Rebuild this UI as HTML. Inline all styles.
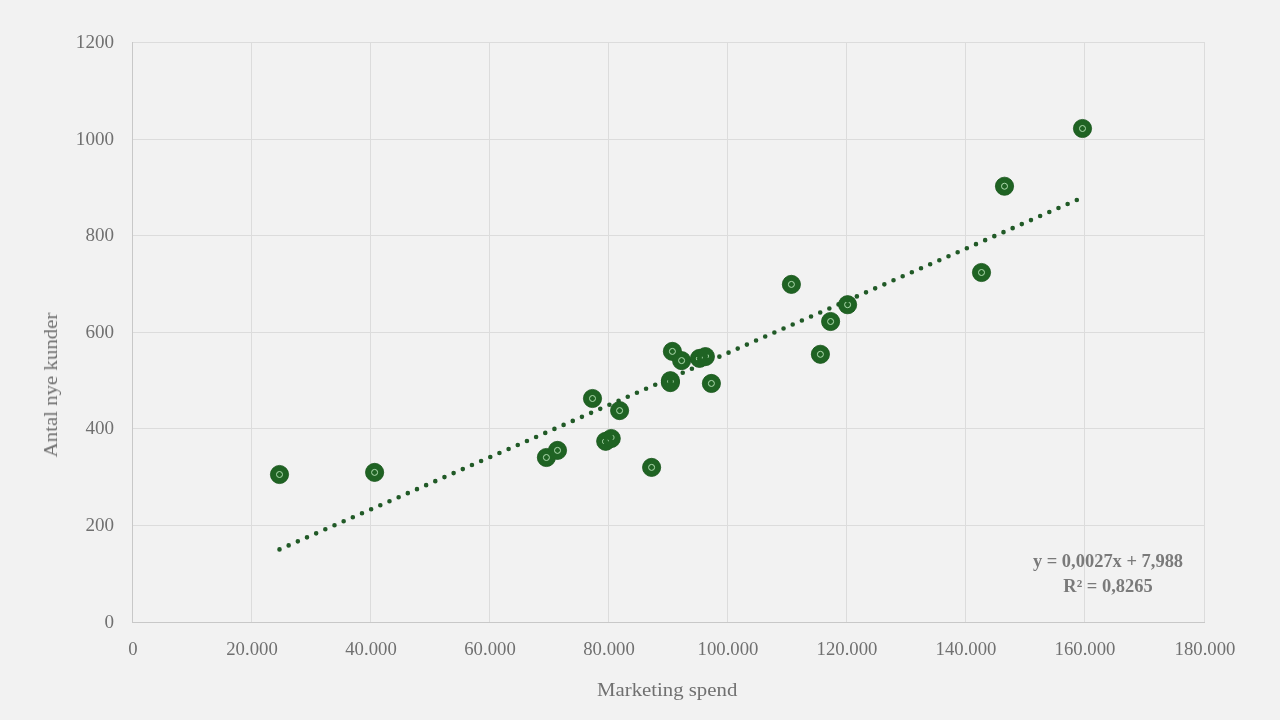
<!DOCTYPE html>
<html><head><meta charset="utf-8"><style>
html,body{margin:0;padding:0;background:#f2f2f2;}
body{width:1280px;height:720px;overflow:hidden;position:relative;font-family:"Liberation Serif",serif;color:#707070;}
svg{position:absolute;left:0;top:0;}
.t{position:absolute;white-space:nowrap;will-change:transform;}
.yl{position:absolute;width:120px;text-align:right;font-size:18px;line-height:20px;white-space:nowrap;transform-origin:100% 50%;transform:scaleX(1.06);will-change:transform;}
.xl{position:absolute;font-size:18px;line-height:20px;white-space:nowrap;width:120px;text-align:center;top:639px;transform:scaleX(1.04);will-change:transform;}
</style></head><body>
<svg width="1280" height="720" viewBox="0 0 1280 720">
<line x1="132" y1="42.5" x2="1205" y2="42.5" stroke="#dcdcdc" stroke-width="1"/>
<line x1="132" y1="139.5" x2="1205" y2="139.5" stroke="#dcdcdc" stroke-width="1"/>
<line x1="132" y1="235.5" x2="1205" y2="235.5" stroke="#dcdcdc" stroke-width="1"/>
<line x1="132" y1="332.5" x2="1205" y2="332.5" stroke="#dcdcdc" stroke-width="1"/>
<line x1="132" y1="428.5" x2="1205" y2="428.5" stroke="#dcdcdc" stroke-width="1"/>
<line x1="132" y1="525.5" x2="1205" y2="525.5" stroke="#dcdcdc" stroke-width="1"/>
<line x1="251.5" y1="42" x2="251.5" y2="622" stroke="#dcdcdc" stroke-width="1"/>
<line x1="370.5" y1="42" x2="370.5" y2="622" stroke="#dcdcdc" stroke-width="1"/>
<line x1="489.5" y1="42" x2="489.5" y2="622" stroke="#dcdcdc" stroke-width="1"/>
<line x1="608.5" y1="42" x2="608.5" y2="622" stroke="#dcdcdc" stroke-width="1"/>
<line x1="727.5" y1="42" x2="727.5" y2="622" stroke="#dcdcdc" stroke-width="1"/>
<line x1="846.5" y1="42" x2="846.5" y2="622" stroke="#dcdcdc" stroke-width="1"/>
<line x1="965.5" y1="42" x2="965.5" y2="622" stroke="#dcdcdc" stroke-width="1"/>
<line x1="1084.5" y1="42" x2="1084.5" y2="622" stroke="#dcdcdc" stroke-width="1"/>
<line x1="1204.5" y1="42" x2="1204.5" y2="622" stroke="#dcdcdc" stroke-width="1"/>
<line x1="132.5" y1="42" x2="132.5" y2="623" stroke="#c8c8c8" stroke-width="1"/>
<line x1="132" y1="622.5" x2="1205" y2="622.5" stroke="#c8c8c8" stroke-width="1"/>
<path d="M277.20 549.40a2.3 2.3 0 1 0 4.6 0a2.3 2.3 0 1 0 -4.6 0M286.36 545.38a2.3 2.3 0 1 0 4.6 0a2.3 2.3 0 1 0 -4.6 0M295.53 541.37a2.3 2.3 0 1 0 4.6 0a2.3 2.3 0 1 0 -4.6 0M304.69 537.35a2.3 2.3 0 1 0 4.6 0a2.3 2.3 0 1 0 -4.6 0M313.86 533.34a2.3 2.3 0 1 0 4.6 0a2.3 2.3 0 1 0 -4.6 0M323.02 529.32a2.3 2.3 0 1 0 4.6 0a2.3 2.3 0 1 0 -4.6 0M332.19 525.30a2.3 2.3 0 1 0 4.6 0a2.3 2.3 0 1 0 -4.6 0M341.35 521.29a2.3 2.3 0 1 0 4.6 0a2.3 2.3 0 1 0 -4.6 0M350.51 517.27a2.3 2.3 0 1 0 4.6 0a2.3 2.3 0 1 0 -4.6 0M359.68 513.26a2.3 2.3 0 1 0 4.6 0a2.3 2.3 0 1 0 -4.6 0M368.84 509.24a2.3 2.3 0 1 0 4.6 0a2.3 2.3 0 1 0 -4.6 0M378.01 505.22a2.3 2.3 0 1 0 4.6 0a2.3 2.3 0 1 0 -4.6 0M387.17 501.21a2.3 2.3 0 1 0 4.6 0a2.3 2.3 0 1 0 -4.6 0M396.34 497.19a2.3 2.3 0 1 0 4.6 0a2.3 2.3 0 1 0 -4.6 0M405.50 493.17a2.3 2.3 0 1 0 4.6 0a2.3 2.3 0 1 0 -4.6 0M414.67 489.16a2.3 2.3 0 1 0 4.6 0a2.3 2.3 0 1 0 -4.6 0M423.83 485.14a2.3 2.3 0 1 0 4.6 0a2.3 2.3 0 1 0 -4.6 0M432.99 481.13a2.3 2.3 0 1 0 4.6 0a2.3 2.3 0 1 0 -4.6 0M442.16 477.11a2.3 2.3 0 1 0 4.6 0a2.3 2.3 0 1 0 -4.6 0M451.32 473.09a2.3 2.3 0 1 0 4.6 0a2.3 2.3 0 1 0 -4.6 0M460.49 469.08a2.3 2.3 0 1 0 4.6 0a2.3 2.3 0 1 0 -4.6 0M469.65 465.06a2.3 2.3 0 1 0 4.6 0a2.3 2.3 0 1 0 -4.6 0M478.82 461.05a2.3 2.3 0 1 0 4.6 0a2.3 2.3 0 1 0 -4.6 0M487.98 457.03a2.3 2.3 0 1 0 4.6 0a2.3 2.3 0 1 0 -4.6 0M497.14 453.01a2.3 2.3 0 1 0 4.6 0a2.3 2.3 0 1 0 -4.6 0M506.31 449.00a2.3 2.3 0 1 0 4.6 0a2.3 2.3 0 1 0 -4.6 0M515.47 444.98a2.3 2.3 0 1 0 4.6 0a2.3 2.3 0 1 0 -4.6 0M524.64 440.97a2.3 2.3 0 1 0 4.6 0a2.3 2.3 0 1 0 -4.6 0M533.80 436.95a2.3 2.3 0 1 0 4.6 0a2.3 2.3 0 1 0 -4.6 0M542.97 432.93a2.3 2.3 0 1 0 4.6 0a2.3 2.3 0 1 0 -4.6 0M552.13 428.92a2.3 2.3 0 1 0 4.6 0a2.3 2.3 0 1 0 -4.6 0M561.30 424.90a2.3 2.3 0 1 0 4.6 0a2.3 2.3 0 1 0 -4.6 0M570.46 420.89a2.3 2.3 0 1 0 4.6 0a2.3 2.3 0 1 0 -4.6 0M579.62 416.87a2.3 2.3 0 1 0 4.6 0a2.3 2.3 0 1 0 -4.6 0M588.79 412.85a2.3 2.3 0 1 0 4.6 0a2.3 2.3 0 1 0 -4.6 0M597.95 408.84a2.3 2.3 0 1 0 4.6 0a2.3 2.3 0 1 0 -4.6 0M607.12 404.82a2.3 2.3 0 1 0 4.6 0a2.3 2.3 0 1 0 -4.6 0M616.28 400.80a2.3 2.3 0 1 0 4.6 0a2.3 2.3 0 1 0 -4.6 0M625.45 396.79a2.3 2.3 0 1 0 4.6 0a2.3 2.3 0 1 0 -4.6 0M634.61 392.77a2.3 2.3 0 1 0 4.6 0a2.3 2.3 0 1 0 -4.6 0M643.77 388.76a2.3 2.3 0 1 0 4.6 0a2.3 2.3 0 1 0 -4.6 0M652.94 384.74a2.3 2.3 0 1 0 4.6 0a2.3 2.3 0 1 0 -4.6 0M662.10 380.72a2.3 2.3 0 1 0 4.6 0a2.3 2.3 0 1 0 -4.6 0M671.27 376.71a2.3 2.3 0 1 0 4.6 0a2.3 2.3 0 1 0 -4.6 0M680.43 372.69a2.3 2.3 0 1 0 4.6 0a2.3 2.3 0 1 0 -4.6 0M689.60 368.68a2.3 2.3 0 1 0 4.6 0a2.3 2.3 0 1 0 -4.6 0M698.76 364.66a2.3 2.3 0 1 0 4.6 0a2.3 2.3 0 1 0 -4.6 0M707.93 360.64a2.3 2.3 0 1 0 4.6 0a2.3 2.3 0 1 0 -4.6 0M717.09 356.63a2.3 2.3 0 1 0 4.6 0a2.3 2.3 0 1 0 -4.6 0M726.25 352.61a2.3 2.3 0 1 0 4.6 0a2.3 2.3 0 1 0 -4.6 0M735.42 348.60a2.3 2.3 0 1 0 4.6 0a2.3 2.3 0 1 0 -4.6 0M744.58 344.58a2.3 2.3 0 1 0 4.6 0a2.3 2.3 0 1 0 -4.6 0M753.75 340.56a2.3 2.3 0 1 0 4.6 0a2.3 2.3 0 1 0 -4.6 0M762.91 336.55a2.3 2.3 0 1 0 4.6 0a2.3 2.3 0 1 0 -4.6 0M772.08 332.53a2.3 2.3 0 1 0 4.6 0a2.3 2.3 0 1 0 -4.6 0M781.24 328.51a2.3 2.3 0 1 0 4.6 0a2.3 2.3 0 1 0 -4.6 0M790.40 324.50a2.3 2.3 0 1 0 4.6 0a2.3 2.3 0 1 0 -4.6 0M799.57 320.48a2.3 2.3 0 1 0 4.6 0a2.3 2.3 0 1 0 -4.6 0M808.73 316.47a2.3 2.3 0 1 0 4.6 0a2.3 2.3 0 1 0 -4.6 0M817.90 312.45a2.3 2.3 0 1 0 4.6 0a2.3 2.3 0 1 0 -4.6 0M827.06 308.43a2.3 2.3 0 1 0 4.6 0a2.3 2.3 0 1 0 -4.6 0M836.23 304.42a2.3 2.3 0 1 0 4.6 0a2.3 2.3 0 1 0 -4.6 0M845.39 300.40a2.3 2.3 0 1 0 4.6 0a2.3 2.3 0 1 0 -4.6 0M854.56 296.39a2.3 2.3 0 1 0 4.6 0a2.3 2.3 0 1 0 -4.6 0M863.72 292.37a2.3 2.3 0 1 0 4.6 0a2.3 2.3 0 1 0 -4.6 0M872.88 288.35a2.3 2.3 0 1 0 4.6 0a2.3 2.3 0 1 0 -4.6 0M882.05 284.34a2.3 2.3 0 1 0 4.6 0a2.3 2.3 0 1 0 -4.6 0M891.21 280.32a2.3 2.3 0 1 0 4.6 0a2.3 2.3 0 1 0 -4.6 0M900.38 276.31a2.3 2.3 0 1 0 4.6 0a2.3 2.3 0 1 0 -4.6 0M909.54 272.29a2.3 2.3 0 1 0 4.6 0a2.3 2.3 0 1 0 -4.6 0M918.71 268.27a2.3 2.3 0 1 0 4.6 0a2.3 2.3 0 1 0 -4.6 0M927.87 264.26a2.3 2.3 0 1 0 4.6 0a2.3 2.3 0 1 0 -4.6 0M937.03 260.24a2.3 2.3 0 1 0 4.6 0a2.3 2.3 0 1 0 -4.6 0M946.20 256.23a2.3 2.3 0 1 0 4.6 0a2.3 2.3 0 1 0 -4.6 0M955.36 252.21a2.3 2.3 0 1 0 4.6 0a2.3 2.3 0 1 0 -4.6 0M964.53 248.19a2.3 2.3 0 1 0 4.6 0a2.3 2.3 0 1 0 -4.6 0M973.69 244.18a2.3 2.3 0 1 0 4.6 0a2.3 2.3 0 1 0 -4.6 0M982.86 240.16a2.3 2.3 0 1 0 4.6 0a2.3 2.3 0 1 0 -4.6 0M992.02 236.14a2.3 2.3 0 1 0 4.6 0a2.3 2.3 0 1 0 -4.6 0M1001.19 232.13a2.3 2.3 0 1 0 4.6 0a2.3 2.3 0 1 0 -4.6 0M1010.35 228.11a2.3 2.3 0 1 0 4.6 0a2.3 2.3 0 1 0 -4.6 0M1019.51 224.10a2.3 2.3 0 1 0 4.6 0a2.3 2.3 0 1 0 -4.6 0M1028.68 220.08a2.3 2.3 0 1 0 4.6 0a2.3 2.3 0 1 0 -4.6 0M1037.84 216.06a2.3 2.3 0 1 0 4.6 0a2.3 2.3 0 1 0 -4.6 0M1047.01 212.05a2.3 2.3 0 1 0 4.6 0a2.3 2.3 0 1 0 -4.6 0M1056.17 208.03a2.3 2.3 0 1 0 4.6 0a2.3 2.3 0 1 0 -4.6 0M1065.34 204.02a2.3 2.3 0 1 0 4.6 0a2.3 2.3 0 1 0 -4.6 0M1074.50 200.00a2.3 2.3 0 1 0 4.6 0a2.3 2.3 0 1 0 -4.6 0" fill="#215a27"/>
<circle cx="279.5" cy="474.5" r="9.1" fill="#1f6323" stroke="#1a561d" stroke-width="0.8"/>
<circle cx="374.6" cy="472.4" r="9.1" fill="#1f6323" stroke="#1a561d" stroke-width="0.8"/>
<circle cx="546.4" cy="457.5" r="9.1" fill="#1f6323" stroke="#1a561d" stroke-width="0.8"/>
<circle cx="557.5" cy="450.4" r="9.1" fill="#1f6323" stroke="#1a561d" stroke-width="0.8"/>
<circle cx="592.5" cy="398.5" r="9.1" fill="#1f6323" stroke="#1a561d" stroke-width="0.8"/>
<circle cx="605.7" cy="441.3" r="9.1" fill="#1f6323" stroke="#1a561d" stroke-width="0.8"/>
<circle cx="611.25" cy="438.5" r="9.1" fill="#1f6323" stroke="#1a561d" stroke-width="0.8"/>
<circle cx="619.6" cy="410.6" r="9.1" fill="#1f6323" stroke="#1a561d" stroke-width="0.8"/>
<circle cx="651.6" cy="467.4" r="9.1" fill="#1f6323" stroke="#1a561d" stroke-width="0.8"/>
<circle cx="670.4" cy="380.7" r="9.1" fill="#1f6323" stroke="#1a561d" stroke-width="0.8"/>
<circle cx="670.4" cy="382.6" r="9.1" fill="#1f6323" stroke="#1a561d" stroke-width="0.8"/>
<circle cx="672.4" cy="351.4" r="9.1" fill="#1f6323" stroke="#1a561d" stroke-width="0.8"/>
<circle cx="681.6" cy="360.6" r="9.1" fill="#1f6323" stroke="#1a561d" stroke-width="0.8"/>
<circle cx="699.5" cy="358.4" r="9.1" fill="#1f6323" stroke="#1a561d" stroke-width="0.8"/>
<circle cx="705.4" cy="356.6" r="9.1" fill="#1f6323" stroke="#1a561d" stroke-width="0.8"/>
<circle cx="711.4" cy="383.45" r="9.1" fill="#1f6323" stroke="#1a561d" stroke-width="0.8"/>
<circle cx="791.4" cy="284.4" r="9.1" fill="#1f6323" stroke="#1a561d" stroke-width="0.8"/>
<circle cx="820.4" cy="354.3" r="9.1" fill="#1f6323" stroke="#1a561d" stroke-width="0.8"/>
<circle cx="830.6" cy="321.5" r="9.1" fill="#1f6323" stroke="#1a561d" stroke-width="0.8"/>
<circle cx="847.6" cy="304.7" r="9.1" fill="#1f6323" stroke="#1a561d" stroke-width="0.8"/>
<circle cx="981.5" cy="272.5" r="9.1" fill="#1f6323" stroke="#1a561d" stroke-width="0.8"/>
<circle cx="1004.5" cy="186.25" r="9.1" fill="#1f6323" stroke="#1a561d" stroke-width="0.8"/>
<circle cx="1082.5" cy="128.5" r="9.1" fill="#1f6323" stroke="#1a561d" stroke-width="0.8"/>
<circle cx="279.5" cy="474.5" r="8.6" fill="#1f6323"/>
<circle cx="374.6" cy="472.4" r="8.6" fill="#1f6323"/>
<circle cx="546.4" cy="457.5" r="8.6" fill="#1f6323"/>
<circle cx="557.5" cy="450.4" r="8.6" fill="#1f6323"/>
<circle cx="592.5" cy="398.5" r="8.6" fill="#1f6323"/>
<circle cx="605.7" cy="441.3" r="8.6" fill="#1f6323"/>
<circle cx="611.25" cy="438.5" r="8.6" fill="#1f6323"/>
<circle cx="619.6" cy="410.6" r="8.6" fill="#1f6323"/>
<circle cx="651.6" cy="467.4" r="8.6" fill="#1f6323"/>
<circle cx="670.4" cy="380.7" r="8.6" fill="#1f6323"/>
<circle cx="670.4" cy="382.6" r="8.6" fill="#1f6323"/>
<circle cx="672.4" cy="351.4" r="8.6" fill="#1f6323"/>
<circle cx="681.6" cy="360.6" r="8.6" fill="#1f6323"/>
<circle cx="699.5" cy="358.4" r="8.6" fill="#1f6323"/>
<circle cx="705.4" cy="356.6" r="8.6" fill="#1f6323"/>
<circle cx="711.4" cy="383.45" r="8.6" fill="#1f6323"/>
<circle cx="791.4" cy="284.4" r="8.6" fill="#1f6323"/>
<circle cx="820.4" cy="354.3" r="8.6" fill="#1f6323"/>
<circle cx="830.6" cy="321.5" r="8.6" fill="#1f6323"/>
<circle cx="847.6" cy="304.7" r="8.6" fill="#1f6323"/>
<circle cx="981.5" cy="272.5" r="8.6" fill="#1f6323"/>
<circle cx="1004.5" cy="186.25" r="8.6" fill="#1f6323"/>
<circle cx="1082.5" cy="128.5" r="8.6" fill="#1f6323"/>
<circle cx="279.5" cy="474.5" r="3" fill="none" stroke="#b0dcb0" stroke-width="1"/>
<circle cx="374.6" cy="472.4" r="3" fill="none" stroke="#b0dcb0" stroke-width="1"/>
<circle cx="546.4" cy="457.5" r="3" fill="none" stroke="#b0dcb0" stroke-width="1"/>
<circle cx="557.5" cy="450.4" r="3" fill="none" stroke="#b0dcb0" stroke-width="1"/>
<circle cx="592.5" cy="398.5" r="3" fill="none" stroke="#b0dcb0" stroke-width="1"/>
<circle cx="619.6" cy="410.6" r="3" fill="none" stroke="#b0dcb0" stroke-width="1"/>
<circle cx="651.6" cy="467.4" r="3" fill="none" stroke="#b0dcb0" stroke-width="1"/>
<circle cx="672.4" cy="351.4" r="3" fill="none" stroke="#b0dcb0" stroke-width="1"/>
<circle cx="681.6" cy="360.6" r="3" fill="none" stroke="#b0dcb0" stroke-width="1"/>
<circle cx="711.4" cy="383.45" r="3" fill="none" stroke="#b0dcb0" stroke-width="1"/>
<circle cx="791.4" cy="284.4" r="3" fill="none" stroke="#b0dcb0" stroke-width="1"/>
<circle cx="820.4" cy="354.3" r="3" fill="none" stroke="#b0dcb0" stroke-width="1"/>
<circle cx="830.6" cy="321.5" r="3" fill="none" stroke="#b0dcb0" stroke-width="1"/>
<circle cx="847.6" cy="304.7" r="3" fill="none" stroke="#b0dcb0" stroke-width="1"/>
<circle cx="981.5" cy="272.5" r="3" fill="none" stroke="#b0dcb0" stroke-width="1"/>
<circle cx="1004.5" cy="186.25" r="3" fill="none" stroke="#b0dcb0" stroke-width="1"/>
<circle cx="1082.5" cy="128.5" r="3" fill="none" stroke="#b0dcb0" stroke-width="1"/>
<path d="M603.57 443.80 A3 3 0 0 1 603.57 439.20" fill="none" stroke="#b0dcb0" stroke-width="1"/>
<path d="M612.93 435.20 A3 3 0 0 1 612.93 439.80" fill="none" stroke="#b0dcb0" stroke-width="1"/>
<path d="M607.96 439.78 A3 3 0 0 1 608.49 441.24" fill="none" stroke="#b0dcb0" stroke-width="1"/>
<path d="M667.68 382.53 A3 3 0 0 1 667.68 380.47" fill="none" stroke="#b0dcb0" stroke-width="1"/>
<path d="M673.22 380.47 A3 3 0 0 1 673.22 382.53" fill="none" stroke="#b0dcb0" stroke-width="1"/>
<circle cx="847.7" cy="300.4" r="2.3" fill="#1f6323"/>
<path d="M696.80 360.10 A3 3 0 0 1 696.80 357.10" fill="none" stroke="#b0dcb0" stroke-width="1"/>
<path d="M708.10 354.70 A3 3 0 0 1 708.10 357.70" fill="none" stroke="#b0dcb0" stroke-width="1"/>
<path d="M702.30 356.82 A3 3 0 0 1 702.30 358.38" fill="none" stroke="#b0dcb0" stroke-width="1"/>
</svg>
<div class="yl" style="left:-6.200000000000003px;top:32px">1200</div>
<div class="yl" style="left:-6.200000000000003px;top:129px">1000</div>
<div class="yl" style="left:-6.200000000000003px;top:225px">800</div>
<div class="yl" style="left:-6.200000000000003px;top:322px">600</div>
<div class="yl" style="left:-6.200000000000003px;top:418px">400</div>
<div class="yl" style="left:-6.200000000000003px;top:515px">200</div>
<div class="yl" style="left:-6.200000000000003px;top:612px">0</div>
<div class="xl" style="left:72.8px">0</div>
<div class="xl" style="left:191.8px">20.000</div>
<div class="xl" style="left:310.8px">40.000</div>
<div class="xl" style="left:429.8px">60.000</div>
<div class="xl" style="left:548.8px">80.000</div>
<div class="xl" style="left:667.8px">100.000</div>
<div class="xl" style="left:786.8px">120.000</div>
<div class="xl" style="left:905.8px">140.000</div>
<div class="xl" style="left:1024.8px">160.000</div>
<div class="xl" style="left:1144.8px">180.000</div>
<div class="t" style="left:597px;top:679px;font-size:19px;line-height:22px;transform-origin:0 0;transform:scaleX(1.094)">Marketing spend</div>
<div class="t" style="left:51px;top:384.8px;font-size:19px;line-height:22px;transform:translate(-50%,-50%) rotate(-90deg) scaleX(1.097)">Antal nye kunder</div>
<div class="t" style="left:1108px;top:549px;font-size:18px;line-height:25px;font-weight:bold;text-align:center;color:#7a7a7a;transform:translateX(-50%) scaleX(1.025)">y = 0,0027x + 7,988<br>R² = 0,8265</div>
</body></html>
